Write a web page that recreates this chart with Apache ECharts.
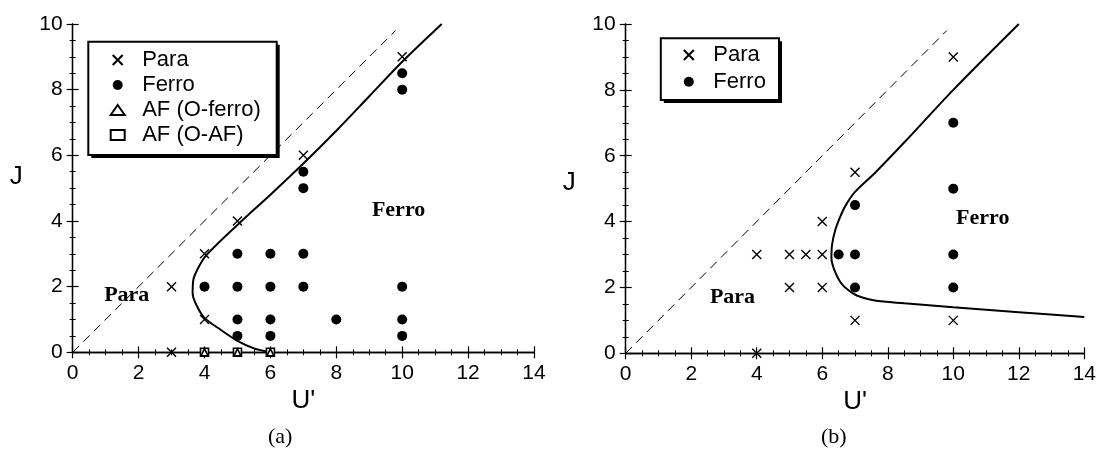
<!DOCTYPE html>
<html>
<head>
<meta charset="utf-8">
<script src="https://cdn.jsdelivr.net/npm/echarts@6/dist/echarts.min.js"></script>
<style>
    body { margin: 0; background: #fff; }
    #grafico { width: 1099px; height: 457px; }
</style>
</head>
<body>
<div id="grafico"></div>
<script>
/*
 * Dados do painel (a)
 */
var paraA = [[3, 0], [3, 2], [4, 1], [4, 3], [5, 4], [7, 6], [10, 9]];
var ferroA = [[4, 2], [5, 3], [5, 2], [5, 1], [5, 0.5], [6, 3], [6, 2], [6, 1], [6, 0.5],
    [7, 5.5], [7, 5], [7, 3], [7, 2], [8, 1], [10, 8.5], [10, 8], [10, 2], [10, 1], [10, 0.5]];
var afFerroA = [[4, 0], [5, 0], [6, 0]];
var afAfA = [[4, 0], [5, 0], [6, 0]];
var curveA = [[6, 0], [5.5, 0.12], [5.0, 0.35], [4.5, 0.68], [4.0, 1.05], [3.75, 1.45], [3.64, 1.8],
    [3.66, 2.2], [3.8, 2.55], [4.05, 2.95], [5, 3.88], [6, 4.8], [7, 5.75], [8, 6.75], [9, 7.8],
    [10, 8.85], [11.2, 10]];
var regionA = [{ name: 'Para', value: [1.64, 1.75] }, { name: 'Ferro', value: [9.89, 4.34] }];

/*
 * Dados do painel (b)
 */
var paraB = [[4, 0], [4, 3], [5, 3], [5.5, 3], [6, 3], [5, 2], [6, 2], [6, 4], [7, 5.5], [7, 1], [10, 9], [10, 1]];
var ferroB = [[6.5, 3], [7, 3], [7, 4.5], [7, 2], [10, 7], [10, 5], [10, 3], [10, 2]];
var curveB = [[14, 1.1], [12, 1.25], [10, 1.4], [8.5, 1.52], [7.6, 1.6], [7.2, 1.7], [6.95, 1.81],
    [6.6, 2.1], [6.38, 2.5], [6.28, 2.9], [6.3, 3.3], [6.4, 3.75], [6.55, 4.15], [6.72, 4.5],
    [7.0, 4.9], [7.63, 5.5], [8.5, 6.4], [10, 8.0], [12, 10]];
var regionB = [{ name: 'Para', value: [3.26, 1.69] }, { name: 'Ferro', value: [10.9, 4.1] }];

// reta J = U'
var diagonal = [[0, 0], [9.8, 9.8]];

var uMin = 0, uMax = 14, uStep = 2;
var jMin = 0, jMax = 10, jStep = 2;

var sans = 'Liberation Sans';
var serif = 'Liberation Serif';
var cross = 'path://M0,0L10,10M10,0L0,10';

function eixoX(grid, pos, labels) {
    return {
        type: 'value', gridIndex: grid, position: pos,
        min: uMin, max: uMax, interval: uStep,
        name: labels ? "U'" : '',
        nameLocation: 'middle', nameGap: 23,
        nameTextStyle: { fontFamily: sans, fontSize: 26, color: '#000' },
        axisLine: { lineStyle: { color: '#000', width: 1.3 } },
        axisTick: { inside: true, length: 6, lineStyle: { color: '#000', width: 1.2 } },
        minorTick: { show: true, splitNumber: 4, length: 3, lineStyle: { color: '#000', width: 1 } },
        axisLabel: { show: labels, margin: 10, fontFamily: sans, fontSize: 21, color: '#000' },
        splitLine: { show: false }
    };
}

function eixoY(grid, pos, labels, alt) {
    return {
        type: 'value', gridIndex: grid, position: pos,
        min: jMin, max: jMax, interval: jStep,
        name: labels ? 'J' : '',
        nameLocation: 'middle', nameGap: 50, nameRotate: 0,
        nameTextStyle: { fontFamily: sans, fontSize: 26, color: '#000', verticalAlign: 'bottom', lineHeight: alt },
        axisLine: { lineStyle: { color: '#000', width: 1.3 } },
        axisTick: { inside: true, length: 6, lineStyle: { color: '#000', width: 1.2 } },
        minorTick: { show: true, splitNumber: 4, length: 3, lineStyle: { color: '#000', width: 1 } },
        axisLabel: { show: labels, margin: 10, fontFamily: sans, fontSize: 21, color: '#000', padding: [0, 0, 5, 0] },
        splitLine: { show: false }
    };
}

function legenda(left, top, nomes, gap) {
    return {
        orient: 'vertical', left: left, top: top, data: nomes,
        selectedMode: false, padding: 0, z: 10,
        itemWidth: 14, itemHeight: 10, itemGap: gap,
        textStyle: { fontFamily: sans, fontSize: 22, color: '#000', padding: [0, 0, 0, 12.5] }
    };
}

// caixa da legenda com sombra
function caixa(x, y, w, h) {
    return [
        { type: 'rect', z: 6, shape: { x: x + 3, y: y + 3, width: w, height: h }, style: { fill: '#000' } },
        { type: 'rect', z: 7, shape: { x: x, y: y, width: w, height: h }, style: { fill: '#fff', stroke: '#000', lineWidth: 2 } }
    ];
}

function serieMarca(nome, dados, x, y, simbolo, tam, estilo) {
    return {
        name: nome, type: 'scatter', xAxisIndex: x, yAxisIndex: y,
        symbol: simbolo, symbolSize: tam, data: dados,
        itemStyle: estilo, z: 5, silent: true
    };
}

function serieLinha(dados, x, y, tipo, larg) {
    return {
        type: 'line', xAxisIndex: x, yAxisIndex: y, data: dados,
        showSymbol: false, symbol: 'none', smooth: tipo === 'solid' ? 0.3 : false,
        lineStyle: { color: '#000', width: larg, type: tipo }, z: 3, silent: true
    };
}

function serieTexto(dados, x, y) {
    return {
        type: 'scatter', xAxisIndex: x, yAxisIndex: y, data: dados,
        symbolSize: 1, itemStyle: { color: 'transparent', opacity: 1 }, silent: true,
        label: {
            show: true, position: 'inside', formatter: '{b}', opacity: 1,
            fontFamily: serif, fontWeight: 'bold', fontSize: 22, color: '#000'
        }
    };
}

var estiloX = { color: 'transparent', borderColor: '#000', borderWidth: 1.4, opacity: 1 };
var estiloFerro = { color: '#000', opacity: 1 };
var estiloAberto = { color: '#fff', borderColor: '#000', borderWidth: 1.6, opacity: 1 };

var chartDom = document.getElementById('grafico');
var myChart = echarts.init(chartDom);
var option;

option = {
    animation: false,
    backgroundColor: '#fff',
    grid: [
        { left: 72.7, top: 24, width: 461.3, height: 328.3 },
        { left: 625.7, top: 24, width: 462, height: 329.3 }
    ],
    xAxis: [eixoX(0, 'bottom', true), eixoX(0, 'top', false), eixoX(1, 'bottom', true), eixoX(1, 'top', false)],
    yAxis: [eixoY(0, 'left', true, 22), eixoY(0, 'right', false, 0), eixoY(1, 'left', true, 12), eixoY(1, 'right', false, 0)],
    legend: [
        legenda(109.7, 49, ['Para', 'Ferro', 'AF (O-ferro)', 'AF (O-AF)'], 3),
        legenda(682.8, 44, ['Para', 'Ferro'], 4.7)
    ],
    graphic: caixa(88.3, 41.7, 188.4, 113.3).concat(caixa(660.8, 38.3, 118.2, 61.7)).concat([
        { type: 'text', left: 268, top: 426, style: { text: '(a)', font: '22px "Liberation Serif"', fill: '#000' } },
        { type: 'text', left: 821, top: 426, style: { text: '(b)', font: '22px "Liberation Serif"', fill: '#000' } }
    ]),
    series: [
        serieLinha(diagonal, 0, 0, [9, 6], 1),
        serieLinha(curveA, 0, 0, 'solid', 2),
        serieMarca('Para', paraA, 0, 0, cross, 9, estiloX),
        serieMarca('Ferro', ferroA, 0, 0, 'circle', 10, estiloFerro),
        serieMarca('AF (O-AF)', afAfA, 0, 0, 'rect', 8, estiloAberto),
        serieMarca('AF (O-ferro)', afFerroA, 0, 0, 'triangle', 7, estiloAberto),
        serieTexto(regionA, 0, 0),

        serieLinha(diagonal, 2, 2, [9, 6], 1),
        serieLinha(curveB, 2, 2, 'solid', 2),
        serieMarca('Para', paraB, 2, 2, cross, 9, estiloX),
        serieMarca('Ferro', ferroB, 2, 2, 'circle', 10, estiloFerro),
        serieTexto(regionB, 2, 2)
    ]
};

option && myChart.setOption(option);
</script>
</body>
</html>
